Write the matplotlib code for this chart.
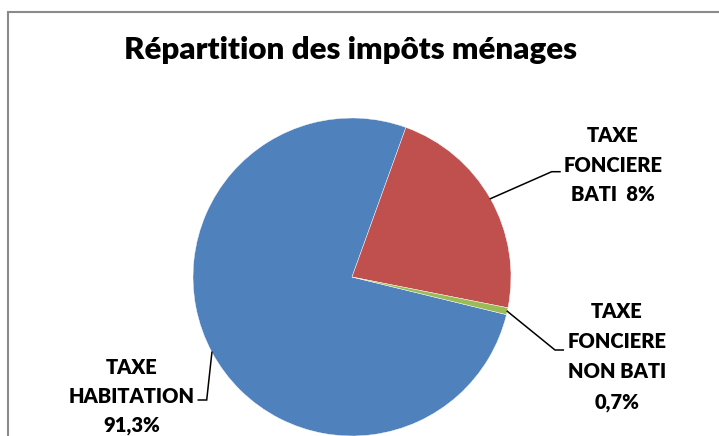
import numpy as np
import matplotlib
matplotlib.use('Agg')
import matplotlib.pyplot as plt
from matplotlib.patches import Rectangle

plt.rcParams['font.family'] = ['Lato', 'DejaVu Sans']

# slice shares as drawn in the picture, labels as printed on it
categories = ['TAXE\nHABITATION\n91,3%', 'TAXE\nFONCIERE\nBATI  8%', 'TAXE\nFONCIERE\nNON BATI\n0,7%']
values = [76.7, 22.6, 0.7]
colors = ['#4F81BD', '#C0504D', '#9BBB59']
title = 'Répartition des impôts ménages'

W, H = 719, 436
fig = plt.figure(figsize=(W / 100, H / 100), dpi=100)
ax = fig.add_axes([0, 0, 1, 1])

cx, cy, r = 352, H - 277, 159
wedges, _ = ax.pie(values, colors=colors, center=(cx, cy), radius=r,
                   startangle=-13.7, counterclock=False,
                   wedgeprops=dict(edgecolor='white', linewidth=0.3))

ax.set_xlim(0, W)
ax.set_ylim(0, H)
ax.set_aspect('equal')
ax.axis('off')

# label block centre, elbow of leader, end of leader (pixels, y up)
label_pos = [(131.7, H - 396.5), (613, H - 165), (616.7, H - 357)]
elbows = [((206.7, H - 400), (198.3, H - 400)),
          ((551.7, H - 171.7), (560, H - 171.7)),
          ((555, H - 350), (563.3, H - 350))]
spacing = [1.6, 1.65, 1.7]

for w, lab, (lx, ly), (el, end), ls in zip(wedges, categories, label_pos, elbows, spacing):
    mid = np.deg2rad((w.theta1 + w.theta2) / 2)
    sx, sy = cx + r * np.cos(mid), cy + r * np.sin(mid)
    ax.plot([sx, el[0], end[0]], [sy, el[1], end[1]], color='black', lw=1.1,
            solid_joinstyle='miter')
    ax.text(lx, ly, lab, ha='center', va='center', multialignment='center',
            fontsize=14.5, fontweight='heavy', linespacing=ls)

ax.text(351, H - 50, title, ha='center', va='center', fontsize=22.5, fontweight='heavy')

ax.add_patch(Rectangle((7.5, -20), 740, H - 11.5 + 20, fill=False,
                       edgecolor='#8a8a8a', lw=1.5, clip_on=False))

fig.savefig('out.png', dpi=100)
